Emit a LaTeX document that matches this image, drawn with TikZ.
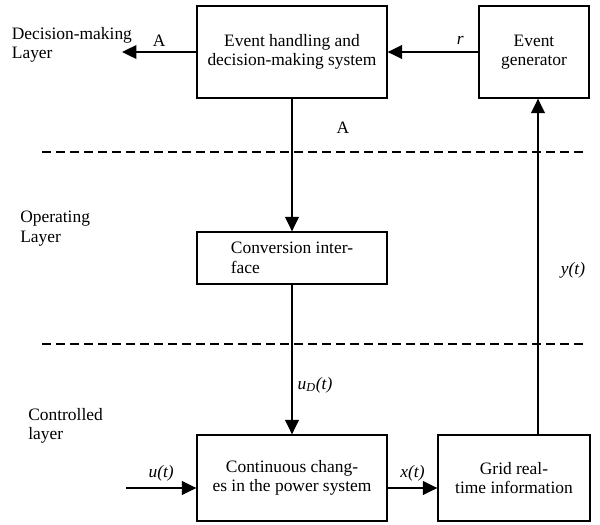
\documentclass[tikz,border=0pt]{standalone}
\usepackage{fontspec}
\setmainfont{Liberation Serif}
\usepackage{tikz}
\usetikzlibrary{arrows.meta,positioning,calc}
\newcommand{\sig}[1]{\textit{#1}}

\begin{document}
\begin{tikzpicture}[
    font=\fontsize{12.4}{13.8}\selectfont,
    box/.style={draw, line width=0.9pt, align=center, inner sep=2pt},
    layer/.style={align=left, anchor=west, inner sep=0pt},
    lbl/.style={inner sep=1pt},
    arr/.style={-{Triangle[length=3.6mm, width=3.4mm]}, line width=1.2pt},
    sep/.style={dashed, dash pattern=on 2.3mm off 1.2mm, line width=1pt},
]
    \useasboundingbox (0, 0) rectangle (15, -13.125);

    % Layer names
    \node[layer] (l_dec) at (0.29, -1.12) {Decision-making\\Layer};
    \node[layer] (l_op) at (0.5, -5.72) {Operating\\Layer};
    \node[layer] (l_ctl) at (0.7, -10.65) {Controlled\\layer};

    % Layer boundaries
    \draw[sep] (1.05, -3.8) -- (14.625, -3.8);
    \draw[sep] (1.05, -8.6) -- (14.625, -8.6);

    % Decision-making layer
    \node[box, minimum width=4.75cm, minimum height=2.3cm] (handle) at (7.3, -1.3) {Event handling and\\decision-making system};
    \node[box, minimum width=2.75cm, minimum height=2.3cm] (gen) at (13.35, -1.3) {Event\\generator};

    % Operating layer
    \node[box, minimum width=4.75cm, minimum height=1.3cm, align=left] (conv) at (7.3, -6.45) {Conversion inter-\\face};

    % Controlled layer
    \node[box, minimum width=4.75cm, minimum height=2.15cm] (cont) at (7.3, -11.95) {Continuous chang-\\es in the power system};
    \node[box, minimum width=3.8cm, minimum height=2.15cm] (grid) at (12.85, -11.95) {Grid real-\\time information};

    % Free ends
    \coordinate (aout) at (3.05, -1.3);
    \coordinate (uin) at (3.15, -12.2);
    \coordinate (ytap) at (13.45, -7);

    % Arrows
    \draw[arr] (handle.west) -- (aout) node[lbl, midway, above=2pt] {A};
    \draw[arr] (gen.west) -- (handle.east) node[lbl, pos=0.2, above=4pt] {\sig{r}};
    \draw[arr] (handle.south) -- (conv.north);
    \draw[arr] (conv.south) -- (cont.north);
    \draw[arr] (uin) -- (uin -| cont.west) node[lbl, midway, above=3pt] {\sig{u(t)}};
    \draw[arr] (cont.east |- uin) -- (grid.west |- uin) node[lbl, midway, above=3pt] {\sig{x(t)}};
    \draw[arr] (grid.north -| ytap) -- (gen.south -| ytap);

    % Signal labels
    \node[lbl] (a_low) at (8.575, -3.2) {A};
    \node[lbl, anchor=west] (ud) at (7.4, -9.625) {\sig{u}\textsubscript{\sig{D}}\sig{(t)}};
    \node[lbl] (yt) at (14.325, -6.75) {\sig{y(t)}};
\end{tikzpicture}
\end{document}
